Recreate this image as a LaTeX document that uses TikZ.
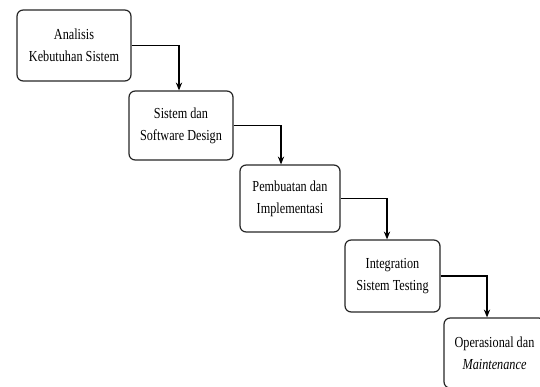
\documentclass[tikz,border=0pt]{standalone}
\usepackage{fontspec}
\setmainfont{Liberation Serif}[FakeStretch=0.8]
\usetikzlibrary{arrows.meta, positioning, calc}
\tikzstyle{phase} = [rectangle, rounded corners=3.5pt, draw=black!85, line width=0.7pt, align=center, inner sep=0pt, font=\fontsize{8.7}{12.5}\selectfont]
\tikzstyle{arrow} = [line width=0.6pt,->,>={Stealth[length=4.5pt,width=3.6pt]}]

\begin{document}
\begin{tikzpicture}
      \useasboundingbox (0,0) rectangle (10.8,-7.74);

      % Phases
      \node[phase, minimum width=2.28cm, minimum height=1.42cm] (analisis) at (1.48,-0.91) {Analisis\\Kebutuhan Sistem};
      \node[phase, minimum width=2.08cm, minimum height=1.38cm] (desain) at (3.62,-2.51) {Sistem dan\\Software Design};
      \node[phase, minimum width=2.0cm, minimum height=1.34cm] (pembuatan) at (5.8,-3.97) {Pembuatan dan\\Implementasi};
      \node[phase, minimum width=1.9cm, minimum height=1.44cm] (testing) at (7.85,-5.52) {Integration\\Sistem Testing};
      \node[phase, minimum width=2.02cm, minimum height=1.4cm] (operasional) at (9.89,-7.06) {Operasional dan\\\textit{Maintenance}};

      % Connectors
      \draw[arrow] (analisis.east) -| ([xshift=-0.04cm]desain.north);
      \draw[arrow] (desain.east) -| ([xshift=-0.18cm]pembuatan.north);
      \draw[arrow] (pembuatan.east) -| ([xshift=-0.11cm]testing.north);
      \draw[arrow] (testing.east) -| ([xshift=-0.15cm]operasional.north);
    \end{tikzpicture}
\end{document}
